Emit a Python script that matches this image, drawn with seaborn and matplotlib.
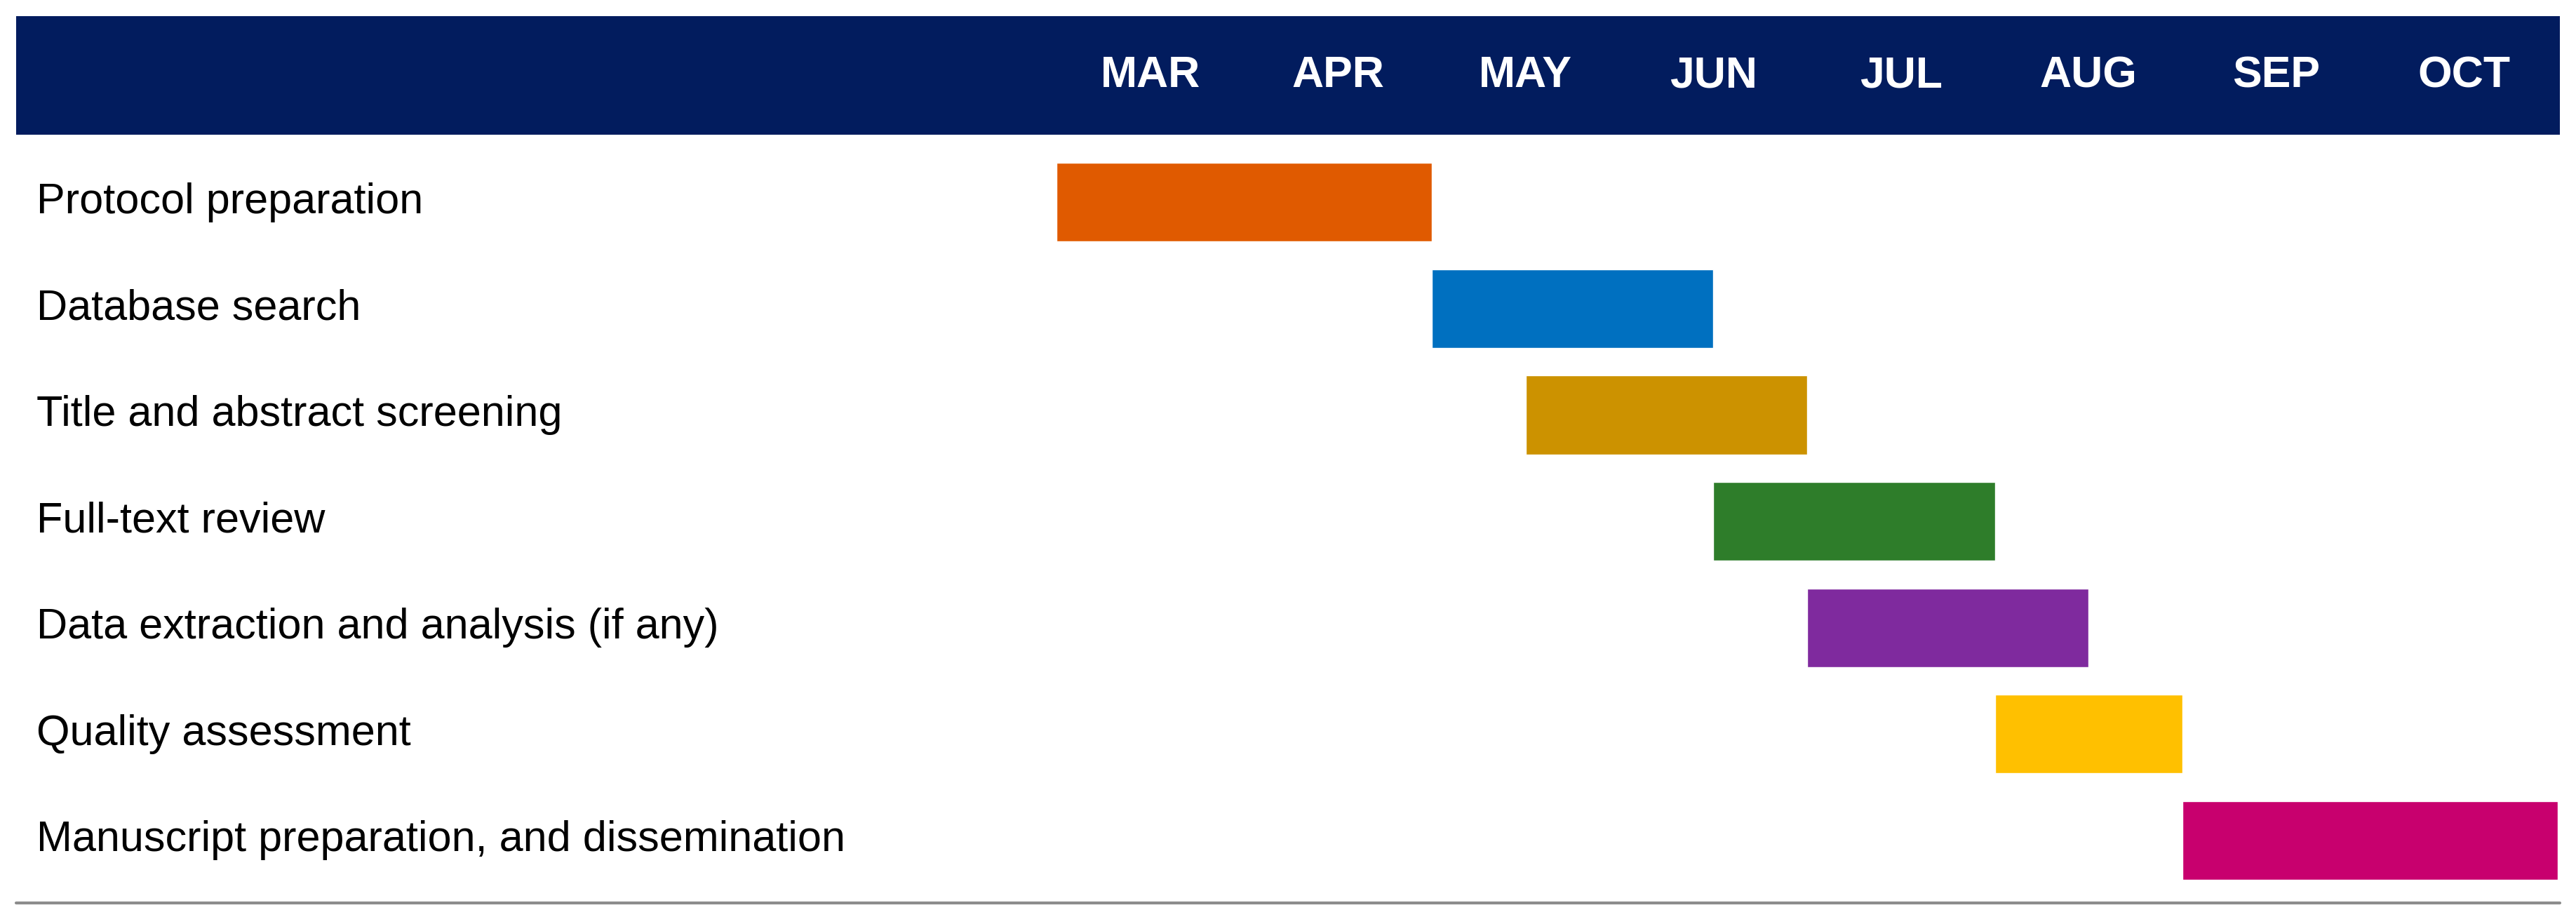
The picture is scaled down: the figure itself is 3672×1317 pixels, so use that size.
import matplotlib
matplotlib.use("Agg")
import matplotlib.pyplot as plt
import seaborn as sns
from matplotlib.patches import Rectangle

months = ["MAR", "APR", "MAY", "JUN", "JUL", "AUG", "SEP", "OCT"]
tasks = ["Protocol preparation", "Database search", "Title and abstract screening",
         "Full-text review", "Data extraction and analysis (if any)",
         "Quality assessment", "Manuscript preparation, and dissemination"]
starts = [0, 2, 2.5, 3.5, 4, 5, 6]
ends = [2, 3.5, 4, 5, 5.5, 6, 8]
colors = ["#E05A00", "#0070C0", "#CC9200", "#2E7D2A", "#7F2A9E", "#FFC000", "#C8006E"]

sns.set_theme(style="white")
plt.rcParams['font.family'] = ['Liberation Sans', 'DejaVu Sans']

W, H = 1568, 562
fig = plt.figure(figsize=(36.72, 13.17), dpi=100)
# header band
fig.patches.append(Rectangle((10/W, 1-82/H), 1548/W, 72/H, transform=fig.transFigure,
                             facecolor="#021C5E", edgecolor="none"))
# bottom rule
fig.add_artist(plt.Line2D([10/W, 1558/W], [1-549/H, 1-549/H], transform=fig.transFigure,
                          color="#8C8C8C", lw=3))

ax = fig.add_axes([643/W, 1-549/H, (1557-643)/W, (549-82)/H])
ax.barh(range(len(tasks)), [e - s for s, e in zip(starts, ends)], left=starts,
        height=0.74, color=colors)
ax.set_xlim(0, 8)
ax.set_ylim((549-123)/64.7, -41/64.7)
ax.axis("off")

for i, m in enumerate(months):
    xf = (643 + (i + 0.5) * (1557-643)/8) / W
    fig.text(xf, 1-46/H, m, color="white", fontweight="bold", fontsize=45,
             ha="center", va="center")
for i, t in enumerate(tasks):
    fig.text(22/W, 1-(123+64.7*i)/H, t, color="black", fontsize=44, ha="left", va="center")

fig.savefig("out.png", dpi=100, facecolor="white")
